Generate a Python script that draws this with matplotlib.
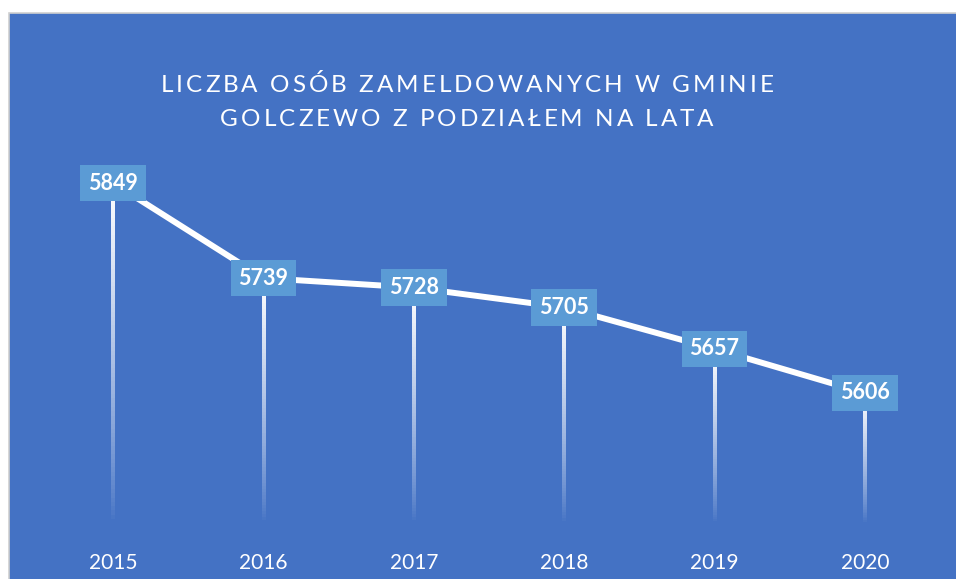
import numpy as np
import matplotlib
matplotlib.use("Agg")
import matplotlib.pyplot as plt
from matplotlib.patches import Rectangle
from matplotlib.collections import LineCollection

# data
years = ["2015", "2016", "2017", "2018", "2019", "2020"]
residents = [5849, 5739, 5728, 5705, 5657, 5606]
title_lines = ["LICZBA OSÓB ZAMELDOWANYCH W GMINIE",
               "GOLCZEWO Z PODZIAŁEM NA LATA"]

BLUE = "#4472C4"
LABEL_BOX = "#5B9BD5"

plt.rcParams["font.family"] = ["Lato", "DejaVu Sans"]

fig = plt.figure(figsize=(9.56, 5.79), dpi=100)
fig.patch.set_facecolor("white")

# blue chart area with thin grey border
fig.add_artist(Rectangle((9 / 956, -0.01), 1.0, 1 - 13 / 579 + 0.01,
                         transform=fig.transFigure, facecolor=BLUE,
                         edgecolor="#D0D0D0", linewidth=1.2, zorder=0))

ax = fig.add_axes([38 / 956, 1 - 527.7 / 579, 902 / 956, (527.7 - 139) / 579])
ax.set_facecolor("none")
x = np.arange(len(years))
ymin, ymax = 5450, 5900
ax.set_ylim(ymin, ymax)
ax.set_xlim(-0.5, len(years) - 0.5)

# drop lines fading towards the bottom
for xi, v in zip(x, residents):
    ys = np.linspace(v, ymin + 5, 80)
    segs = [[(xi, ys[i]), (xi, ys[i + 1])] for i in range(len(ys) - 1)]
    alphas = np.linspace(1.0, 0.0, len(segs)) ** 0.8
    colors = [(1, 1, 1, a) for a in alphas]
    ax.add_collection(LineCollection(segs, colors=colors, linewidths=1.6,
                                     antialiaseds=False, zorder=1))

ax.plot(x, residents, color="white", linewidth=4.3, solid_capstyle="butt", zorder=2)

for xi, v in zip(x, residents):
    ax.text(xi, v, str(v), ha="center", va="center", color="white",
            fontsize=15.5, fontweight="bold", zorder=3,
            bbox=dict(boxstyle="square,pad=0.36", facecolor=LABEL_BOX,
                      edgecolor="none"))

ax.set_xticks(x)
ax.set_xticklabels(years, color="white", fontsize=15)
ax.tick_params(axis="x", length=0, pad=18)
ax.set_yticks([])
for s in ax.spines.values():
    s.set_visible(False)

# title with letter spacing, placed character by character
renderer = fig.canvas.get_renderer()
tracking = 3.0  # px between letters
title_size = 17.5
for line, yc in zip(title_lines, [85, 120]):
    widths = []
    for ch in line:
        t = fig.text(0, 0, ch if ch != " " else "a a", fontsize=title_size)
        w = t.get_window_extent(renderer).width
        if ch == " ":
            t2 = fig.text(0, 0, "aa", fontsize=title_size)
            w = w - t2.get_window_extent(renderer).width
            t2.remove()
        t.remove()
        widths.append(w)
    total = sum(widths) + tracking * (len(line) - 1)
    xpos = 467 - total / 2
    for ch, w in zip(line, widths):
        if ch != " ":
            fig.text(xpos / 956, 1 - yc / 579, ch, ha="left", va="center",
                     color="white", fontsize=title_size)
        xpos += w + tracking

fig.savefig("out.png", dpi=100)
